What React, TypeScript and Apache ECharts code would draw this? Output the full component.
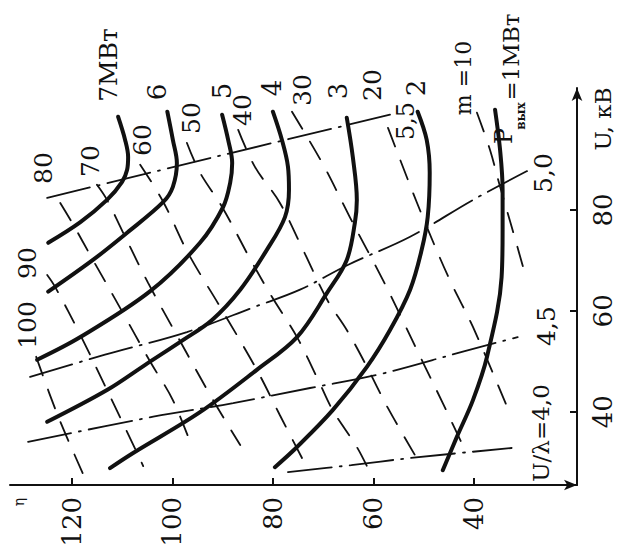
import React, { useEffect, useRef } from "react";
import * as echarts from "echarts";

// Horizontal scale (runs right-to-left) and the U, kV scale
const xTicks = [40, 60, 80, 100, 120];
const uTicks = [40, 60, 80];

// Output power curves, P = const (MW); each point is [x, U]
const power7 = [[110.8, 98.5], [109.4, 93.9], [108.8, 90.5], [109.0, 88.0], [110.0, 85.6], [113.0, 82.0], [118.3, 77.6], [124.7, 73.5]];
const power6 = [[101.0, 99.5], [99.9, 93.9], [99.1, 89.3], [99.9, 84.6], [101.8, 81.6], [109.0, 75.5], [115.8, 70.1], [124.7, 63.8]];
const power5 = [[90.1, 98.9], [88.9, 93.9], [88.1, 89.3], [88.5, 85.4], [89.9, 80.6], [94.5, 73.5], [104.4, 63.9], [118.3, 54.8], [126.9, 50.3]];
const power4 = [[80.0, 99.5], [78.2, 93.9], [77.0, 88.6], [76.8, 84.0], [77.6, 78.6], [81.2, 72.1], [86.5, 64.2], [92.1, 58.2], [97.9, 54.2], [105.4, 49.3], [113.0, 44.3], [124.9, 38.0]];
const power3 = [[65.3, 98.3], [64.1, 90.5], [63.3, 82.0], [63.7, 77.4], [65.3, 70.1], [69.2, 63.6], [75.2, 54.8], [83.2, 48.3], [94.5, 39.9], [107.8, 31.8], [112.4, 28.8]];
const power2 = [[51.2, 99.5], [49.4, 93.9], [48.8, 87.4], [49.2, 78.6], [50.4, 72.1], [52.7, 64.2], [56.7, 56.2], [61.3, 48.9], [68.1, 40.3], [75.2, 33.0], [79.6, 29.0]];
const power1 = [[35.8, 99.9], [34.8, 91.9], [34.3, 84.0], [34.3, 76.1], [34.5, 66.7], [37.4, 50.9], [40.2, 42.3], [43.4, 35.0], [46.2, 28.4]];

// Lines m = const (dashed)
const m100 = [[127.1, 50.9], [122.7, 39.0], [117.6, 27.3]];
const m90 = [[124.9, 67.1], [123.3, 64.7], [118.3, 55.2], [113.0, 44.3], [107.0, 31.8], [105.8, 29.2]];
const m80 = [[122.3, 81.4], [119.9, 77.4], [115.8, 70.1], [110.4, 60.6], [104.4, 49.9], [99.9, 42.3], [96.1, 33.0]];
const m70 = [[115.0, 85.0], [113.0, 82.0], [109.4, 74.7], [104.8, 65.5], [98.9, 54.8], [91.9, 42.3], [86.5, 33.4]];
const m60 = [[106.4, 89.0], [101.8, 81.6], [96.9, 71.5], [90.5, 60.8], [83.2, 48.3], [78.6, 39.3], [74.2, 30.8]];
const m50 = [[97.1, 93.3], [94.5, 87.4], [90.1, 80.6], [84.2, 69.7], [80.2, 62.8], [75.2, 54.8], [71.0, 46.3], [68.1, 40.3], [63.3, 33.0], [61.1, 28.8]];
const m40 = [[86.9, 95.9], [83.6, 88.6], [78.6, 81.4], [74.0, 72.1], [69.2, 62.2], [65.3, 56.2], [61.5, 49.3], [57.1, 40.7], [50.8, 29.8]];
const m30 = [[76.2, 99.5], [70.0, 89.0], [64.7, 78.6], [58.1, 66.1], [54.7, 59.2], [50.2, 49.9], [46.2, 41.7], [41.8, 32.4]];
const m20 = [[57.1, 96.3], [53.3, 86.4], [49.4, 76.7], [44.8, 66.1], [40.2, 56.8], [33.3, 40.7]];
const m10 = [[39.4, 99.3], [36.8, 91.9], [34.8, 84.6], [32.5, 76.7], [29.5, 66.1]];

// Lines U/λ = const (dash-dot)
const ratio55 = [[124.9, 82.4], [92.5, 90.3], [56.7, 98.9]];
const ratio50 = [[128.3, 46.9], [113.4, 51.3], [97.1, 55.8], [83.6, 60.8], [74.6, 64.2], [65.1, 69.1], [52.7, 74.7], [40.2, 82.0], [28.9, 88.0]];
const ratio45 = [[128.7, 34.0], [103.8, 39.0], [87.9, 41.7], [72.6, 44.7], [59.3, 47.3], [42.2, 51.9], [31.3, 54.8]];
const ratio40 = [[77.0, 28.0], [64.4, 29.4], [52.7, 30.8], [32.5, 32.8]];

const powerCurves = [power7, power6, power5, power4, power3, power2, power1];
const mLines = [m100, m90, m80, m70, m60, m50, m40, m30, m20, m10];
const ratioLines = [ratio55, ratio50, ratio45, ratio40];

const FONT = "DejaVu Serif";
const INK = "#111";

// Text placement on the page: [text, x, y, fontSize]
const labelLayout: [string, number, number, number][] = [
  ["7МВт", 108, 65, 25],
  ["6", 157, 92, 26],
  ["5", 222, 91, 26],
  ["4", 272, 88, 26],
  ["3", 338, 91, 26],
  ["2", 416, 88, 26],
  ["100", 27, 325, 25],
  ["90", 27, 263, 25],
  ["80", 43, 168, 25],
  ["70", 90, 161, 25],
  ["60", 142, 140, 25],
  ["50", 191, 118, 25],
  ["40", 242, 110, 25],
  ["30", 302, 90, 25],
  ["20", 372, 85, 25],
  ["m =10", 463, 78, 22],
  ["5,5", 406, 121, 24],
  ["5,0", 543, 173, 25],
  ["4,5", 546, 326, 25],
  ["U/λ=4,0", 541, 433, 23],
  ["P", 504, 136, 24],
  ["вых", 521, 116, 12],
  ["=1МВт", 511, 57, 23],
  ["U, кВ", 603, 119, 23],
  ["η", 19, 502, 14],
];

function lineSeries(data: number[][], width: number, type: any) {
  return {
    type: "line",
    data,
    smooth: 0.35,
    showSymbol: false,
    silent: true,
    clip: false,
    lineStyle: { color: INK, width, type, cap: "round" },
  };
}

export default function App() {
  const ref = useRef<HTMLDivElement>(null);

  useEffect(() => {
    const chart = echarts.init(ref.current!, undefined, { renderer: "svg", width: 619, height: 556 });
    const series = [
      ...mLines.map((d) => lineSeries(d, 1.8, [20, 15])),
      ...ratioLines.map((d) => lineSeries(d, 1.8, [44, 8, 2, 8])),
      ...powerCurves.map((d) => lineSeries(d, 4, "solid")),
    ];
    chart.setOption({
      animation: false,
      backgroundColor: "#fff",
      grid: { left: 10, right: 42, top: 88, bottom: 71, containLabel: false, outerBoundsMode: "none" },
      xAxis: {
        type: "value",
        inverse: true,
        min: 19.5,
        max: 132.3,
        splitLine: { show: false },
        axisLine: {
          show: true,
          lineStyle: { color: INK, width: 2 },
          symbol: ["none", "arrow"],
          symbolSize: [8, 13],
        },
        axisTick: { show: true, inside: true, length: 7, lineStyle: { color: INK, width: 2 }, customValues: xTicks },
        axisLabel: {
          customValues: xTicks,
          rotate: 90,
          margin: 12,
          color: INK,
          fontSize: 26,
          fontFamily: FONT,
        },
      },
      yAxis: {
        type: "value",
        position: "right",
        min: 25.46,
        max: 104.2,
        splitLine: { show: false },
        axisLine: {
          show: true,
          lineStyle: { color: INK, width: 2 },
          symbol: ["none", "arrow"],
          symbolSize: [8, 13],
        },
        axisTick: { show: true, inside: true, length: 7, lineStyle: { color: INK, width: 2 }, customValues: uTicks },
        axisLabel: {
          customValues: uTicks,
          rotate: 90,
          margin: 13,
          color: INK,
          fontSize: 26,
          fontFamily: FONT,
        },
      },
      series,
      graphic: labelLayout.map(([text, x, y, fs]) => ({
        type: "text",
        x,
        y,
        rotation: Math.PI / 2,
        silent: true,
        style: {
          text,
          fill: INK,
          fontSize: fs,
          fontFamily: FONT,
          fontWeight: text === "вых" ? "bold" : "normal",
          align: "center",
          verticalAlign: "middle",
          textAlign: "center",
          textVerticalAlign: "middle",
        },
      })),
    });
    return () => chart.dispose();
  }, []);

  return <div ref={ref} style={{ position: "absolute", left: 0, top: 0, width: 619, height: 556 }} />;
}
